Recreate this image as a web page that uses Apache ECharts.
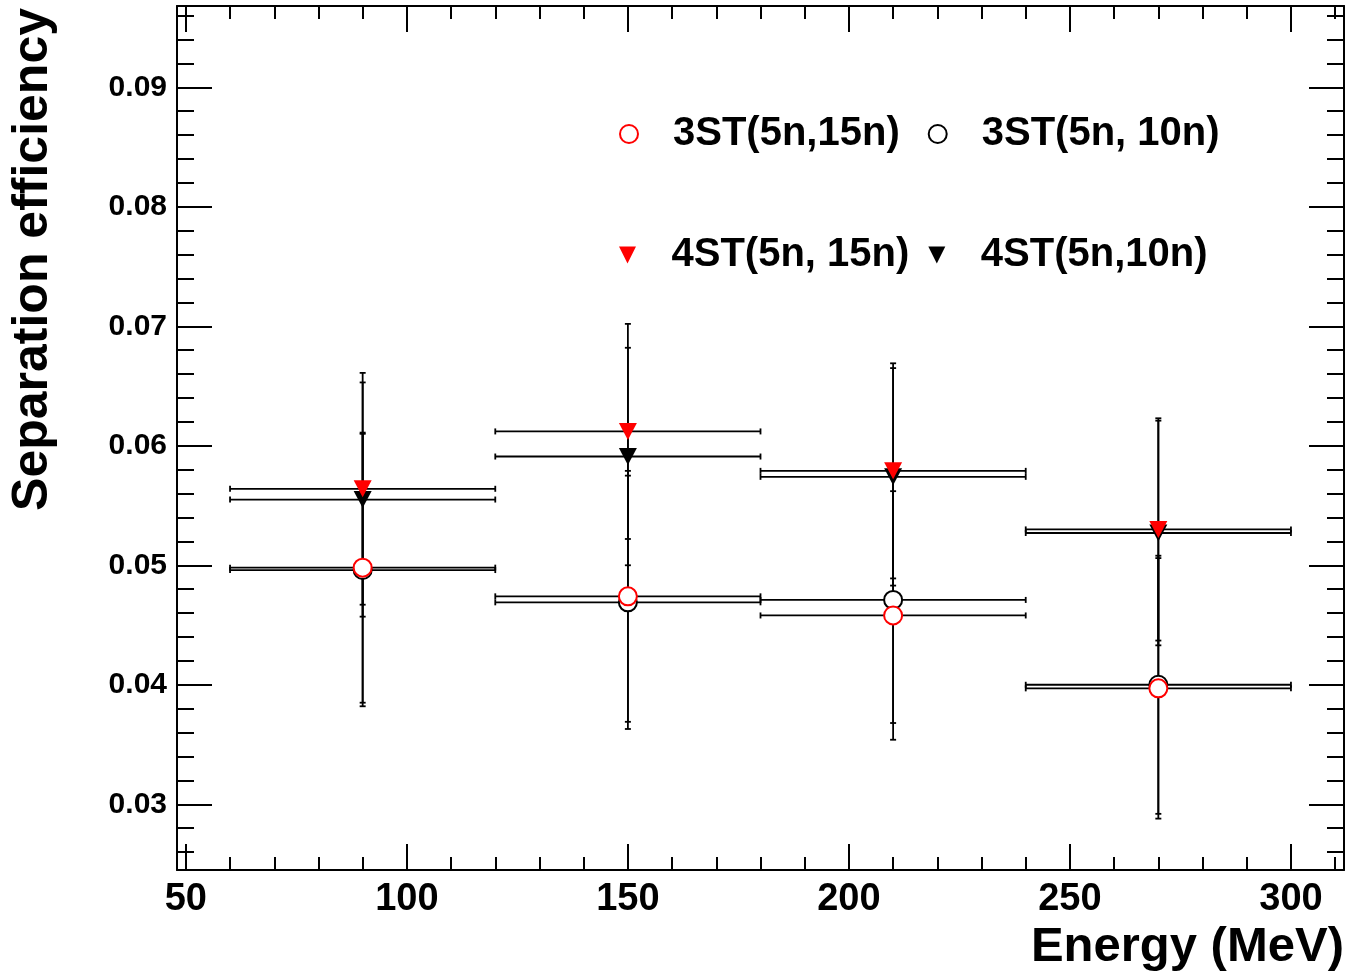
<!DOCTYPE html>
<html>
<head>
<meta charset="utf-8">
<title>Separation efficiency vs Energy</title>
<script src="https://cdn.jsdelivr.net/npm/echarts@6/dist/echarts.min.js"></script>
<style>
  html, body { margin: 0; padding: 0; background: #fff; }
  #chart { width: 1348px; height: 972px; }
</style>
</head>
<body>
<div id="chart"></div>
<script>
// Energy bin centres (MeV) and half-widths of the bins
const energy = [90, 150, 210, 270];
const energyHalfWidth = [30, 30, 30, 30];

// Separation efficiency and its uncertainty for each selection
const eff3ST_15n = [0.0498, 0.0474, 0.0458, 0.0397];
const err3ST_15n = [0.0113, 0.0105, 0.0104, 0.0109];

const eff3ST_10n = [0.0496, 0.0469, 0.0471, 0.0400];
const err3ST_10n = [0.0114, 0.0106, 0.0103, 0.0108];

const eff4ST_15n = [0.0564, 0.0612, 0.0579, 0.0530];
const err4ST_15n = [0.0097, 0.0090, 0.0090, 0.0093];

const eff4ST_10n = [0.0555, 0.0591, 0.0574, 0.0527];
const err4ST_10n = [0.0098, 0.0091, 0.0091, 0.0094];

// Series names as shown in the legend
const names = ['3ST(5n,15n)', '3ST(5n, 10n)', '4ST(5n, 15n)', '4ST(5n,10n)'];

// Axis ranges
const xRange = [48, 312];
const yRange = [0.0245, 0.0968];

const FONT = '"Liberation Sans", Arial, Helvetica, sans-serif';
const RED = '#ff0000';
const BLACK = '#000000';
const TRI = 'path://M0,0L10,0L5,10Z';

function rows(ys, errs) {
  return energy.map((e, i) => [e, ys[i], energyHalfWidth[i], errs[i]]);
}
function points(ys) {
  return energy.map((e, i) => [e, ys[i]]);
}

// Error bars with small end caps, drawn in black
function renderErrorBar(params, api) {
  const x = api.value(0), y = api.value(1), xe = api.value(2), ye = api.value(3);
  const l = api.coord([x - xe, y]);
  const r = api.coord([x + xe, y]);
  const t = api.coord([x, y + ye]);
  const b = api.coord([x, y - ye]);
  const cap = 3;
  const style = { stroke: BLACK, lineWidth: 1.8 };
  const seg = (x1, y1, x2, y2) => ({ type: 'line', shape: { x1, y1, x2, y2 }, style });
  return {
    type: 'group',
    children: [
      seg(l[0], l[1], r[0], r[1]),
      seg(l[0], l[1] - cap, l[0], l[1] + cap),
      seg(r[0], r[1] - cap, r[0], r[1] + cap),
      seg(t[0], t[1], b[0], b[1]),
      seg(t[0] - cap, t[1], t[0] + cap, t[1]),
      seg(b[0] - cap, b[1], b[0] + cap, b[1])
    ]
  };
}

function errorSeries(ys, errs) {
  return {
    type: 'custom',
    renderItem: renderErrorBar,
    data: rows(ys, errs),
    encode: { x: 0, y: 1 },
    z: 2,
    silent: true
  };
}

const axisLineStyle = { color: BLACK, width: 2 };
const legendText = {
  color: BLACK, fontFamily: FONT, fontWeight: 'bold', fontSize: 40,
  padding: [0, 0, 0, 30]
};

const chart = echarts.init(document.getElementById('chart'), null, { renderer: 'canvas' });

chart.setOption({
  animation: false,
  backgroundColor: '#ffffff',
  grid: { left: 177, right: 4, top: 6, bottom: 102, containLabel: false },
  xAxis: [
    {
      type: 'value', position: 'bottom', min: xRange[0], max: xRange[1], splitNumber: 5,
      axisLine: { show: true, onZero: false, lineStyle: axisLineStyle },
      axisTick: { show: true, inside: true, length: 26, lineStyle: { color: BLACK, width: 2 } },
      minorTick: { show: true, splitNumber: 5, length: 13, lineStyle: { color: BLACK, width: 2 } },
      axisLabel: {
        show: true, margin: 11, showMinLabel: false, showMaxLabel: false,
        color: BLACK, fontFamily: FONT, fontWeight: 'bold', fontSize: 38
      },
      splitLine: { show: false }
    },
    {
      type: 'value', position: 'top', min: xRange[0], max: xRange[1], splitNumber: 5,
      axisLine: { show: true, onZero: false, lineStyle: axisLineStyle },
      axisTick: { show: true, inside: true, length: 26, lineStyle: { color: BLACK, width: 2 } },
      minorTick: { show: true, splitNumber: 5, length: 13, lineStyle: { color: BLACK, width: 2 } },
      axisLabel: { show: false },
      splitLine: { show: false }
    }
  ],
  yAxis: [
    {
      type: 'value', position: 'left', min: yRange[0], max: yRange[1], splitNumber: 5,
      axisLine: { show: true, onZero: false, lineStyle: axisLineStyle },
      axisTick: { show: true, inside: true, length: 35, lineStyle: { color: BLACK, width: 2 } },
      minorTick: { show: true, splitNumber: 5, length: 17, lineStyle: { color: BLACK, width: 2 } },
      axisLabel: {
        show: true, margin: 10, showMinLabel: false, showMaxLabel: false,
        color: BLACK, fontFamily: FONT, fontWeight: 'bold', fontSize: 30,
        formatter: v => v.toFixed(2)
      },
      splitLine: { show: false }
    },
    {
      type: 'value', position: 'right', min: yRange[0], max: yRange[1], splitNumber: 5,
      axisLine: { show: true, onZero: false, lineStyle: axisLineStyle },
      axisTick: { show: true, inside: true, length: 35, lineStyle: { color: BLACK, width: 2 } },
      minorTick: { show: true, splitNumber: 5, length: 17, lineStyle: { color: BLACK, width: 2 } },
      axisLabel: { show: false },
      splitLine: { show: false }
    }
  ],
  legend: [
    {
      data: [names[0], names[1]],
      left: 619, top: 114, padding: 0, itemGap: 28,
      itemWidth: 18, itemHeight: 18,
      selectedMode: false,
      textStyle: legendText
    },
    {
      data: [names[2], names[3]],
      left: 619, top: 235, padding: 0, itemGap: 19,
      itemWidth: 18, itemHeight: 17,
      selectedMode: false,
      textStyle: legendText
    }
  ],
  graphic: [
    {
      type: 'text', x: 33, y: 8, rotation: Math.PI / 2,
      style: {
        text: 'Separation efficiency', fill: BLACK,
        font: 'bold 50px ' + FONT, align: 'right', verticalAlign: 'middle'
      }
    },
    {
      type: 'text', x: 1344, y: 972,
      style: {
        text: 'Energy (MeV)', fill: BLACK,
        font: 'bold 49px ' + FONT, align: 'right', verticalAlign: 'bottom'
      }
    }
  ],
  series: [
    errorSeries(eff3ST_10n, err3ST_10n),
    errorSeries(eff3ST_15n, err3ST_15n),
    errorSeries(eff4ST_10n, err4ST_10n),
    errorSeries(eff4ST_15n, err4ST_15n),
    {
      name: names[1], type: 'scatter', data: points(eff3ST_10n), z: 3,
      symbol: 'circle', symbolSize: 18,
      itemStyle: { color: '#ffffff', borderColor: BLACK, borderWidth: 2, opacity: 1 }
    },
    {
      name: names[0], type: 'scatter', data: points(eff3ST_15n), z: 4,
      symbol: 'circle', symbolSize: 18,
      itemStyle: { color: '#ffffff', borderColor: RED, borderWidth: 2, opacity: 1 }
    },
    {
      name: names[3], type: 'scatter', data: points(eff4ST_10n), z: 5,
      symbol: TRI, symbolSize: [18, 17],
      itemStyle: { color: BLACK, opacity: 1 }
    },
    {
      name: names[2], type: 'scatter', data: points(eff4ST_15n), z: 6,
      symbol: TRI, symbolSize: [18, 17],
      itemStyle: { color: RED, opacity: 1 }
    }
  ]
});
</script>
</body>
</html>
